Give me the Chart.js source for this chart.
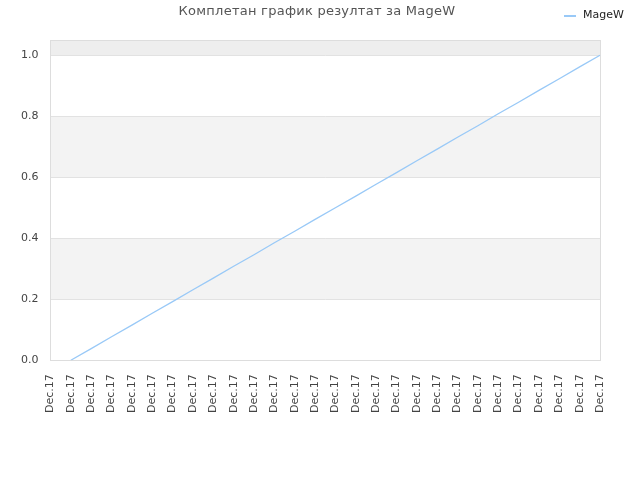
<!DOCTYPE html>
<html>
<head>
<meta charset="utf-8">
<script src="https://cdn.jsdelivr.net/npm/chart.js@4.4.0/dist/chart.umd.min.js"></script>
<style>
  html, body { margin: 0; padding: 0; background: #fff; }
  #wrap { width: 640px; height: 480px; }
</style>
</head>
<body>
<div id="wrap"><canvas id="resultChart" width="640" height="480"></canvas></div>
<script>
// Data
const chartTitle = 'Комплетан график резултат за MageW';
const seriesName = 'MageW';
const dayLabels = [
    'Dec.17', 'Dec.17', 'Dec.17', 'Dec.17', 'Dec.17', 'Dec.17', 'Dec.17',
    'Dec.17', 'Dec.17', 'Dec.17', 'Dec.17', 'Dec.17', 'Dec.17', 'Dec.17',
    'Dec.17', 'Dec.17', 'Dec.17', 'Dec.17', 'Dec.17', 'Dec.17', 'Dec.17',
    'Dec.17', 'Dec.17', 'Dec.17', 'Dec.17', 'Dec.17', 'Dec.17', 'Dec.17'
];
const resultValues = [
    null, 0.000, 0.038, 0.077, 0.115, 0.154, 0.192, 0.231, 0.269, 0.308,
    0.346, 0.385, 0.423, 0.462, 0.500, 0.538, 0.577, 0.615, 0.654, 0.692,
    0.731, 0.769, 0.808, 0.846, 0.885, 0.923, 0.962, 1.000
];
const yTicks = [0, 0.2, 0.4, 0.6, 0.8, 1.0];

const lineColor = '#99c9f7';

// alternating background bands, plot border, title and legend
const bandsPlugin = {
    id: 'bands',
    beforeDatasetsDraw(chart) {
        const { ctx, chartArea, scales } = chart;
        const y = scales.y;
        ctx.save();
        for (let i = 0; i < yTicks.length; i++) {
            const lo = yTicks[i];
            const hi = i + 1 < yTicks.length ? yTicks[i + 1] : y.max;
            if (i % 2 === 0 && i + 1 < yTicks.length) continue;
            const top = y.getPixelForValue(hi);
            const bot = y.getPixelForValue(lo);
            ctx.fillStyle = (i + 1 < yTicks.length) ? '#f3f3f3' : '#eeeeee';
            ctx.fillRect(chartArea.left, top, chartArea.right - chartArea.left, bot - top);
        }
        // gridlines over the bands
        ctx.strokeStyle = '#e2e2e2';
        ctx.lineWidth = 1;
        yTicks.forEach(function(v) {
            const py = Math.round(y.getPixelForValue(v)) + 0.5;
            ctx.beginPath();
            ctx.moveTo(chartArea.left, py);
            ctx.lineTo(chartArea.right, py);
            ctx.stroke();
        });
        ctx.strokeStyle = '#dddddd';
        ctx.strokeRect(Math.round(chartArea.left) + 0.5, Math.round(chartArea.top) + 0.5,
            Math.round(chartArea.right - chartArea.left), Math.round(chartArea.bottom - chartArea.top));
        ctx.restore();
    },
    afterDraw(chart) {
        const ctx = chart.ctx;
        ctx.save();
        // title
        ctx.fillStyle = '#555';
        ctx.font = '13px "DejaVu Sans"';
        ctx.letterSpacing = '0.25px';
        ctx.textAlign = 'center';
        ctx.textBaseline = 'middle';
        ctx.fillText(chartTitle, 317, 12);
        ctx.letterSpacing = '0px';
        // legend
        ctx.strokeStyle = lineColor;
        ctx.lineWidth = 2;
        ctx.beginPath();
        ctx.moveTo(564, 16);
        ctx.lineTo(576, 16);
        ctx.stroke();
        ctx.fillStyle = '#222';
        ctx.font = '11px "DejaVu Sans"';
        ctx.textAlign = 'left';
        ctx.fillText(seriesName, 583, 15);
        ctx.restore();
    }
};

const ctxRes = document.getElementById('resultChart').getContext('2d');
new Chart(ctxRes, {
    type: 'line',
    data: {
        labels: dayLabels,
        datasets: [{
            label: seriesName,
            data: resultValues,
            borderColor: lineColor,
            backgroundColor: lineColor,
            borderWidth: 1.3,
            pointRadius: 0,
            fill: false,
            tension: 0
        }]
    },
    options: {
        responsive: false,
        animation: false,
        devicePixelRatio: 1,
        layout: { padding: { left: 17, right: 40, top: 40, bottom: 61 } },
        plugins: {
            legend: { display: false },
            tooltip: { enabled: false },
            title: { display: false }
        },
        scales: {
            x: {
                offset: false,
                grid: { display: false },
                border: { display: false },
                ticks: {
                    autoSkip: false,
                    maxRotation: 90,
                    minRotation: 90,
                    color: '#444',
                    padding: 6,
                    font: { family: 'DejaVu Sans', size: 11 }
                }
            },
            y: {
                min: 0,
                max: 1.05,
                afterBuildTicks: function(scale) {
                    scale.ticks = yTicks.map(function(v) { return { value: v }; });
                },
                grid: { display: false },
                border: { display: false },
                ticks: {
                    color: '#444',
                    padding: 4,
                    font: { family: 'DejaVu Sans', size: 11 },
                    callback: function(value) { return Number(value).toFixed(1); }
                }
            }
        }
    },
    plugins: [bandsPlugin]
});
</script>
</body>
</html>
